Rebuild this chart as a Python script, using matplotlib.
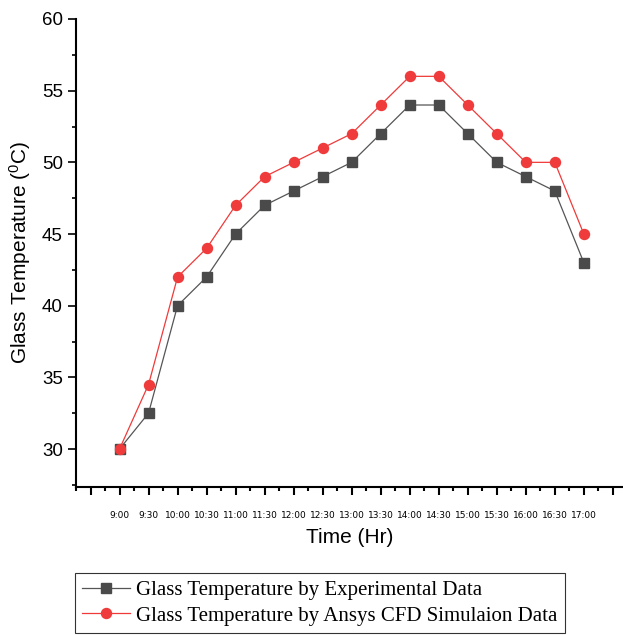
import matplotlib
matplotlib.use("Agg")
import matplotlib.pyplot as plt
from matplotlib.ticker import MultipleLocator

times = ["9:00", "9:30", "10:00", "10:30", "11:00", "11:30", "12:00", "12:30", "13:00",
         "13:30", "14:00", "14:30", "15:00", "15:30", "16:00", "16:30", "17:00"]
experimental = [30, 32.5, 40, 42, 45, 47, 48, 49, 50, 52, 54, 54, 52, 50, 49, 48, 43]
cfd = [30, 34.5, 42, 44, 47, 49, 50, 51, 52, 54, 56, 56, 54, 52, 50, 50, 45]

x = list(range(len(times)))

fig = plt.figure(figsize=(6.23, 6.35), dpi=100)
ax = fig.add_axes([76 / 623, 148 / 635, 547 / 623, 468 / 635])

l1, = ax.plot(x, experimental, color="#555555", linewidth=0.9, marker="s",
              markersize=6.5, markerfacecolor="#4a4a4a", markeredgecolor="#4a4a4a",
              label="Glass Temperature by Experimental Data")
l2, = ax.plot(x, cfd, color="#f03a3a", linewidth=0.9, marker="o",
              markersize=7.2, markerfacecolor="#ef3b3b", markeredgecolor="#ef3b3b",
              label="Glass Temperature by Ansys CFD Simulaion Data")

ax.set_xlim(-1.5, 17.35)
ax.set_ylim(27.35, 60)

ax.set_xticks(list(range(-1, 18)))
ax.set_xticklabels([""] + times + [""], fontsize=6.5, family="DejaVu Sans")
ax.xaxis.set_minor_locator(MultipleLocator(0.5))
ax.yaxis.set_major_locator(MultipleLocator(5))
ax.yaxis.set_minor_locator(MultipleLocator(2.5))

ax.tick_params(axis="x", which="major", direction="out", length=6, width=1.5, pad=11)
ax.tick_params(axis="x", which="minor", direction="out", length=3, width=1.5)
ax.tick_params(axis="y", which="major", direction="out", length=6, width=1.2,
               labelsize=13.5)
ax.tick_params(axis="y", which="minor", direction="out", length=3, width=1.2)
for lab in ax.get_yticklabels():
    lab.set_family("Liberation Sans")

for side in ["top", "right"]:
    ax.spines[side].set_visible(False)
for side in ["left", "bottom"]:
    ax.spines[side].set_linewidth(1.5)

ax.set_xlabel("Time (Hr)", fontsize=15, family="Liberation Sans", labelpad=6)
ax.set_ylabel(r"Glass Temperature ($\mathregular{^{0}}$C)", fontsize=15,
              family="Liberation Sans", labelpad=6)

leg = fig.legend(handles=[l1, l2], loc="lower left",
                 bbox_to_anchor=(75 / 623, 2 / 635),
                 prop={"family": "Liberation Serif", "size": 15},
                 frameon=True, fancybox=False, edgecolor="black",
                 borderpad=0.35, labelspacing=0.3, handlelength=2.3,
                 handletextpad=0.3, borderaxespad=0)
leg.get_frame().set_linewidth(0.8)

fig.savefig("out.png", dpi=100)
